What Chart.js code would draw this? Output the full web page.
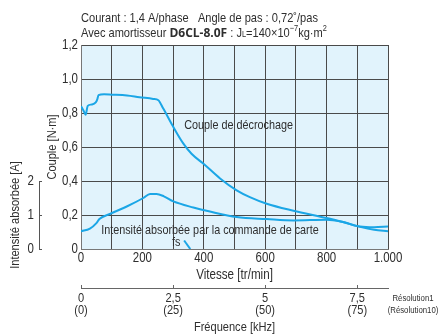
<!DOCTYPE html>
<html>
<head>
<meta charset="utf-8">
<script src="https://cdn.jsdelivr.net/npm/chart.js@4.4.0/dist/chart.umd.min.js"></script>
<style>
  html, body { margin: 0; padding: 0; background: #fff; }
  #cadre { width: 439px; height: 334px; }
</style>
</head>
<body>
<div id="cadre"><canvas id="graphique" width="439" height="334"></canvas></div>
<script>
// Couple de décrochage [N·m] en fonction de la vitesse [tr/min]
const vitesseCouple = [0, 8, 15, 22, 35, 48, 53, 57, 75, 100, 150, 190, 235, 252, 268, 300, 333, 360, 400, 453, 507, 550, 605, 692, 800, 850, 909, 955, 1000];
const couple = [0.84, 0.815, 0.79, 0.842, 0.85, 0.862, 0.88, 0.905, 0.91, 0.908, 0.903, 0.893, 0.883, 0.875, 0.826, 0.72, 0.621, 0.56, 0.5, 0.415, 0.345, 0.305, 0.266, 0.225, 0.182, 0.16, 0.13, 0.113, 0.105];

// Intensité absorbée [A] en fonction de la vitesse [tr/min]
const vitesseIntensite = [0, 29, 51, 60, 94, 149, 203, 225, 246, 270, 301, 366, 420, 507, 605, 692, 800, 850, 909, 955, 1000];
const intensite = [0.52, 0.6, 0.77, 0.88, 1.03, 1.25, 1.5, 1.62, 1.62, 1.55, 1.4, 1.22, 1.1, 0.94, 0.88, 0.84, 0.86, 0.8, 0.66, 0.64, 0.66];

// repère fs
const vitesseFs = [336, 356];
const coupleFs = [0.05, 0];

// graduations
const ticksIntensite = [0, 1, 2];
const ticksFrequence = [0, 2.5, 5, 7.5];
const etiquettesFrequence = ['0', '2,5', '5', '7,5'];
const etiquettesResolution10 = ['(0)', '(25)', '(50)', '(75)'];
const pasParTour = 500; // 0,72°/pas

const police = '"Liberation Sans", Arial, sans-serif';
const couleurTexte = '#2e2e2e';
const couleurCourbe = '#1ba6e6';
const fondTrace = '#e1f3fc';

// pas de police étroite installée : on resserre le texte à la main
const ETROIT = 0.82;
const fillTextBrut = CanvasRenderingContext2D.prototype.fillText;
const measureTextBrut = CanvasRenderingContext2D.prototype.measureText;

function formatVitesse(v) {
  if (v % 200 !== 0) return '';
  return v >= 1000 ? '1.000' : String(v);
}

function formatCouple(v) {
  return v === 0 ? '0' : v.toFixed(1).replace('.', ',');
}

const decor = {
  id: 'decor',
  beforeDraw(chart) {
    const { ctx, chartArea: a } = chart;
    ctx.save();
    ctx.fillStyle = fondTrace;
    ctx.fillRect(a.left, a.top, a.right - a.left, a.bottom - a.top);
    ctx.restore();
  },
  afterDraw(chart) {
    const { ctx, chartArea: a, scales } = chart;
    const sx = scales.x, sy = scales.y, sa = scales.yA, sf = scales.xF;
    ctx.save();
    ctx.fillStyle = couleurTexte;
    ctx.textBaseline = 'middle';

    // en-tête
    const normale = '13.5px ' + police;
    const petite = '9px ' + police;
    ctx.font = normale;
    ctx.textAlign = 'left';
    ctx.fillText('Courant : 1,4 A/phase   Angle de pas : 0,72˚/pas', a.left, 18);

    let x = a.left;
    const y2 = 33;
    const morceau = (txt, font, dy) => {
      ctx.font = font;
      ctx.fillText(txt, x, y2 + (dy || 0));
      x += ctx.measureText(txt).width;
    };
    morceau('Avec amortisseur ', normale);
    // référence en gras, pas resserrée
    ctx.font = 'bold 12px "Open Sans", sans-serif';
    fillTextBrut.call(ctx, 'D6CL-8.0F', x, y2 + 0.5);
    x += measureTextBrut.call(ctx, 'D6CL-8.0F').width;
    morceau(' : J', normale);
    morceau('L', petite, 2);
    morceau('=140×10', normale);
    morceau('−7', petite, -4);
    morceau('kg·m', normale);
    morceau('2', petite, -4);

    // étiquettes des courbes
    ctx.font = '13.2px ' + police;
    ctx.textAlign = 'left';
    ctx.fillText('Couple de décrochage', sx.getPixelForValue(336), sy.getPixelForValue(0.728));
    ctx.textAlign = 'center';
    ctx.fillText('Intensité absorbée par la commande de carte', sx.getPixelForValue(420), sy.getPixelForValue(0.11));
    ctx.fillText('fs', sx.getPixelForValue(310), sy.getPixelForValue(0.038));

    // axe de l'intensité
    ctx.strokeStyle = '#555';
    ctx.lineWidth = 1;
    ctx.beginPath();
    ctx.moveTo(39.5, sa.getPixelForValue(0));
    ctx.lineTo(39.5, sa.getPixelForValue(2));
    ctx.stroke();

    ctx.save();
    ctx.font = normale;
    ctx.translate(15, 215);
    ctx.rotate(-Math.PI / 2);
    ctx.textAlign = 'center';
    ctx.fillText('Intensité absorbée [A]', 0, 0);
    ctx.restore();

    // graduations de la fréquence
    ctx.strokeStyle = '#666';
    ctx.beginPath();
    ticksFrequence.forEach(v => {
      const px = Math.round(sf.getPixelForValue(v)) + 0.5;
      ctx.moveTo(px, sf.top);
      ctx.lineTo(px, sf.top - 3);
    });
    ctx.stroke();

    ctx.font = '9.5px ' + police;
    ctx.textAlign = 'center';
    ctx.fillText('Résolution1', 413, 298);
    ctx.fillText('(Résolution10)', 413, 310);
    ctx.restore();
  }
};

const ctx = document.getElementById('graphique').getContext('2d');
ctx.fillText = function (t, x, y) {
  this.save();
  this.translate(x, y);
  this.scale(ETROIT, 1);
  fillTextBrut.call(this, t, 0, 0);
  this.restore();
};
ctx.measureText = function (t) {
  return { width: measureTextBrut.call(this, t).width * ETROIT };
};

new Chart(ctx, {
  type: 'line',
  data: {
    datasets: [
      {
        data: vitesseCouple.map((v, i) => ({ x: v, y: couple[i] })),
        xAxisID: 'x', yAxisID: 'y',
        borderColor: couleurCourbe, borderWidth: 2, pointRadius: 0,
        cubicInterpolationMode: 'monotone'
      },
      {
        data: vitesseIntensite.map((v, i) => ({ x: v, y: intensite[i] })),
        xAxisID: 'x', yAxisID: 'yA',
        borderColor: couleurCourbe, borderWidth: 2, pointRadius: 0,
        cubicInterpolationMode: 'monotone'
      },
      {
        data: vitesseFs.map((v, i) => ({ x: v, y: coupleFs[i] })),
        xAxisID: 'x', yAxisID: 'y',
        borderColor: couleurCourbe, borderWidth: 2, pointRadius: 0
      }
    ]
  },
  options: {
    responsive: false,
    animation: false,
    events: [],
    devicePixelRatio: 1,
    layout: { padding: { left: 0, right: 51, top: 45, bottom: 0 } },
    plugins: { legend: { display: false }, tooltip: { enabled: false } },
    scales: {
      x: {
        type: 'linear', position: 'bottom', weight: 0, min: 0, max: 1000,
        ticks: {
          stepSize: 100, autoSkip: false, maxRotation: 0, padding: 1,
          color: couleurTexte, font: { family: police, size: 14 },
          callback: formatVitesse
        },
        grid: { color: '#4a4a4a', lineWidth: 1, drawTicks: false },
        border: { color: '#777' },
        title: {
          display: true, text: 'Vitesse [tr/min]', color: couleurTexte,
          font: { family: police, size: 14.2, weight: 'normal', lineHeight: '16px' },
          padding: { top: 0, bottom: 5 }
        },
        afterFit: s => { s.height = 39; }
      },
      xF: {
        type: 'linear', position: 'bottom', weight: 1, min: 0, max: 1000 / 60 * pasParTour / 1000,
        afterBuildTicks: s => { s.ticks = ticksFrequence.map(v => ({ value: v })); },
        ticks: {
          padding: 4, autoSkip: false, maxRotation: 0, color: couleurTexte,
          font: { family: police, size: 13.5, lineHeight: '12px' },
          callback: (v, i) => [etiquettesFrequence[i], etiquettesResolution10[i]]
        },
        grid: { display: false, drawTicks: false },
        border: { display: true, color: '#666' },
        title: {
          display: true, text: 'Fréquence [kHz]', color: couleurTexte,
          font: { family: police, size: 13.5, weight: 'normal', lineHeight: '14px' },
          padding: { top: 0, bottom: 0 }
        },
        afterFit: s => { s.height = 46; }
      },
      y: {
        type: 'linear', position: 'left', weight: 0, min: 0, max: 1.2,
        ticks: {
          stepSize: 0.2, padding: 3, color: couleurTexte,
          font: { family: police, size: 14 }, callback: formatCouple
        },
        grid: { color: '#4a4a4a', lineWidth: 1, drawTicks: false },
        border: { color: '#777' },
        title: {
          display: true, text: 'Couple [N·m]', color: couleurTexte,
          font: { family: police, size: 13.5, weight: 'normal', lineHeight: '16px' },
          padding: { top: 2, bottom: 0 }
        },
        afterFit: s => { s.width = 39; }
      },
      yA: {
        type: 'linear', position: 'left', weight: 1, min: 0, max: 6,
        afterBuildTicks: s => { s.ticks = ticksIntensite.map(v => ({ value: v })); },
        ticks: { padding: 5, color: couleurTexte, font: { family: police, size: 14 } },
        grid: { drawOnChartArea: false, drawTicks: true, tickLength: 3, color: '#555' },
        border: { display: false },
        afterFit: s => { s.width = 42; }
      }
    }
  },
  plugins: [decor]
});
</script>
</body>
</html>
